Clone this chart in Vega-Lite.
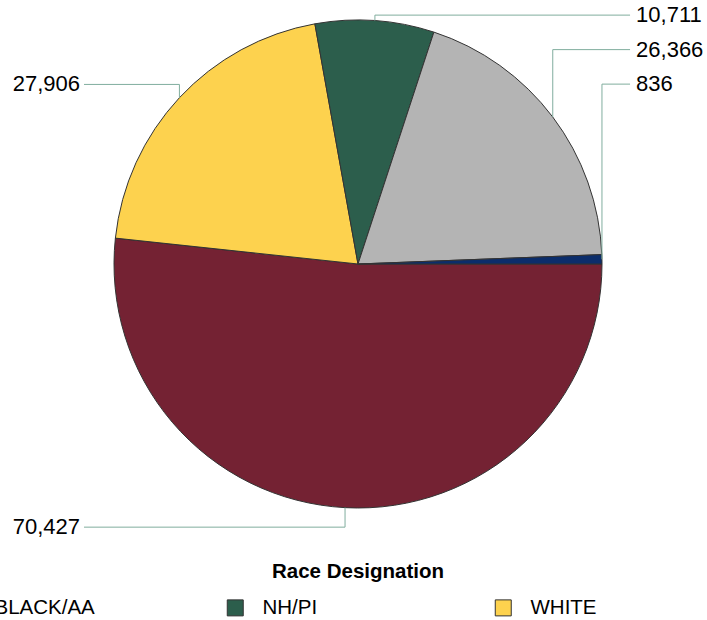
{
  "$schema": "https://vega.github.io/schema/vega-lite/v6.json",
  "width": 488,
  "height": 488,
  "autosize": {"type": "none"},
  "padding": {"left": 114, "top": 20, "right": 105, "bottom": 112},
  "background": "white",
  "config": {
    "view": {"stroke": null},
    "font": "Liberation Sans",
    "legend": {"layout": {"bottom": {"anchor": "middle", "direction": "horizontal"}}}
  },
  "data": {
    "values": [
      {"race": "ASIAN", "count": 70427},
      {"race": "WHITE", "count": 27906},
      {"race": "NH/PI", "count": 10711},
      {"race": "TWO OR MORE RACES", "count": 26366},
      {"race": "BLACK/AA", "count": 836}
    ]
  },
  "transform": [
    {"calculate": "indexof(['ASIAN','WHITE','NH/PI','TWO OR MORE RACES','BLACK/AA'], datum.race)", "as": "k"}
  ],
  "layer": [
    {
      "mark": {"type": "arc", "stroke": "#333333", "strokeWidth": 1},
      "encoding": {
        "theta": {"field": "count", "type": "quantitative", "stack": true, "scale": {"range": [1.5707963, 7.8539816]}},
        "order": {"field": "k", "type": "quantitative"},
        "color": {
          "field": "race",
          "type": "nominal",
          "scale": {
            "domain": ["ASIAN", "BLACK/AA", "NH/PI", "WHITE", "TWO OR MORE RACES"],
            "range": ["#742233", "#0b2d6b", "#2c5e4c", "#fdd24e", "#b4b4b4"]
          },
          "legend": {
            "orient": "bottom",
            "direction": "horizontal",
            "columns": 5,
            "gridAlign": "all",
            "columnPadding": 2,
            "rowPadding": 10,
            "offset": 54,
            "title": "Race Designation",
            "titleFont": "Liberation Sans",
            "titleFontSize": 20.5,
            "titleFontWeight": "bold",
            "titleColor": "#000000",
            "titleAnchor": "middle",
            "titlePadding": 15,
            "labelFont": "Liberation Sans",
            "labelFontSize": 20.5,
            "labelColor": "#000000",
            "labelOffset": 17,
            "labelLimit": 231,
            "symbolType": "square",
            "symbolSize": 256,
            "symbolStrokeColor": "#333333",
            "symbolStrokeWidth": 1,
            "symbolOpacity": 1
          }
        }
      }
    },
    {
      "transform": [
        {"window": [{"op": "sum", "field": "count", "as": "cum"}], "sort": [{"field": "k"}], "frame": [null, 0]},
        {"joinaggregate": [{"op": "sum", "field": "count", "as": "total"}]},
        {"calculate": "PI/2 + 2*PI*(datum.cum - datum.count/2)/datum.total", "as": "mid"},
        {"calculate": "sin(datum.mid)", "as": "ax"},
        {"calculate": "cos(datum.mid)", "as": "ay"},
        {"calculate": "datum.ax >= 0 ? 'R' : 'L'", "as": "side"},
        {"window": [{"op": "row_number", "as": "r"}], "groupby": ["side"], "sort": [{"field": "ay", "order": "descending"}]},
        {"calculate": "datum.side == 'R' ? 1.02 - 0.1414*(datum.r - 1) : datum.ay*1.08", "as": "ly"},
        {"calculate": "datum.side == 'R' ? 1.115 : -1.123", "as": "lx"}
      ],
      "layer": [
        {
          "mark": {"type": "rule", "color": "#80ad9e", "strokeWidth": 1},
          "encoding": {
            "x": {"field": "ax", "type": "quantitative", "scale": {"domain": [-1, 1], "nice": false, "zero": false}, "axis": null},
            "y": {"field": "ay", "type": "quantitative", "scale": {"domain": [-1, 1], "nice": false, "zero": false}, "axis": null},
            "y2": {"field": "ly"}
          }
        },
        {
          "mark": {"type": "rule", "color": "#80ad9e", "strokeWidth": 1},
          "encoding": {
            "x": {"field": "ax", "type": "quantitative", "scale": {"domain": [-1, 1], "nice": false, "zero": false}, "axis": null},
            "x2": {"field": "lx"},
            "y": {"field": "ly", "type": "quantitative", "scale": {"domain": [-1, 1], "nice": false, "zero": false}, "axis": null}
          }
        },
        {
          "transform": [{"filter": "datum.side == 'R'"}],
          "mark": {"type": "text", "align": "left", "baseline": "middle", "dx": 6, "fontSize": 22, "font": "Liberation Sans", "color": "#000000"},
          "encoding": {
            "x": {"field": "lx", "type": "quantitative", "scale": {"domain": [-1, 1], "nice": false, "zero": false}, "axis": null},
            "y": {"field": "ly", "type": "quantitative", "scale": {"domain": [-1, 1], "nice": false, "zero": false}, "axis": null},
            "text": {"field": "count", "type": "quantitative", "format": ","}
          }
        },
        {
          "transform": [{"filter": "datum.side == 'L'"}],
          "mark": {"type": "text", "align": "right", "baseline": "middle", "dx": -4, "fontSize": 22, "font": "Liberation Sans", "color": "#000000"},
          "encoding": {
            "x": {"field": "lx", "type": "quantitative", "scale": {"domain": [-1, 1], "nice": false, "zero": false}, "axis": null},
            "y": {"field": "ly", "type": "quantitative", "scale": {"domain": [-1, 1], "nice": false, "zero": false}, "axis": null},
            "text": {"field": "count", "type": "quantitative", "format": ","}
          }
        }
      ]
    }
  ]
}
